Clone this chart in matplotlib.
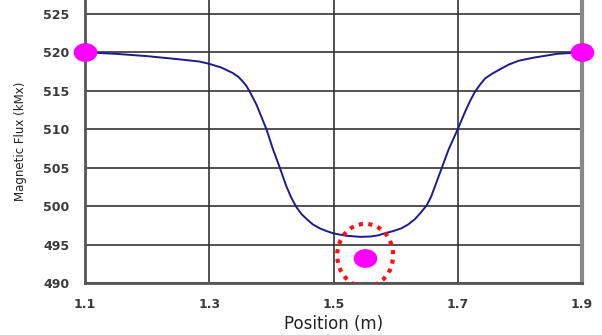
import matplotlib.pyplot as plt
import numpy as np
from matplotlib.path import Path
from matplotlib.patches import Ellipse

plt.rcParams['font.family'] = ['DejaVu Sans']

# flux profile along the position
position = [1.100, 1.150, 1.200, 1.250, 1.284, 1.300, 1.320, 1.338, 1.347, 1.354,
            1.360, 1.365, 1.376, 1.392, 1.403, 1.414, 1.424, 1.432, 1.440, 1.448,
            1.457, 1.467, 1.478, 1.489, 1.500, 1.520, 1.543, 1.560, 1.572, 1.582,
            1.596, 1.609, 1.620, 1.631, 1.641, 1.650, 1.657, 1.663, 1.674, 1.685,
            1.700, 1.712, 1.720, 1.728, 1.736, 1.744, 1.755, 1.766, 1.782, 1.798,
            1.822, 1.860, 1.900, 1.915]
flux = [520.0, 519.8, 519.5, 519.1, 518.8, 518.5, 518.0, 517.3, 516.8, 516.2,
        515.6, 514.9, 513.2, 510.0, 507.3, 504.9, 502.6, 501.1, 499.9, 499.0,
        498.3, 497.6, 497.1, 496.75, 496.45, 496.15, 496.0, 496.05, 496.2, 496.45,
        496.75, 497.1, 497.6, 498.3, 499.2, 500.1, 501.2, 502.5, 504.9, 507.3,
        510.0, 512.3, 513.7, 514.9, 515.8, 516.6, 517.2, 517.7, 518.4, 518.9,
        519.3, 519.8, 520.0, 520.1]

# measured points
pt_x = [1.10, 1.90, 1.55]
pt_y = [520.1, 520.1, 493.2]

xticks = [1.1, 1.3, 1.5, 1.7, 1.9]
yticks = [490, 495, 500, 505, 510, 515, 520, 525]

# elliptical marker (wider than tall)
t = np.linspace(0, 2 * np.pi, 60)
oval = Path(np.column_stack([np.cos(t), 0.78 * np.sin(t)]))

fig = plt.figure(figsize=(6.02, 3.35), dpi=100)
ax = fig.add_axes([85 / 602, 1 - 283 / 335, (582 - 85) / 602, 283 / 335])

ax.plot(position, flux, color='#1c1c8a', lw=1.4, zorder=3, clip_on=False,
        solid_joinstyle='round')
ax.plot(pt_x, pt_y, ls='none', marker=oval, ms=16, color='#ff00ff',
        zorder=4, clip_on=False)

ring = Ellipse((1.551, 493.6), 0.09, 8.2, fill=False, edgecolor='#ff1010',
               lw=3, ls=(0, (1, 1.3)), zorder=5)
ax.add_patch(ring)

ax.set_xlim(1.1, 1.9)
ax.set_ylim(490, 526.8)
ax.set_xticks(xticks)
ax.set_xticklabels([str(v) for v in xticks])
ax.set_yticks(yticks)
ax.tick_params(length=0, labelsize=9, pad=11)
for lab in ax.get_xticklabels() + ax.get_yticklabels():
    lab.set_fontweight('bold')
    lab.set_color('#3a3a3a')

ax.grid(True, color='#333333', lw=1.2)
ax.set_axisbelow(True)

ax.spines['top'].set_visible(False)
ax.spines['left'].set_color('#555555')
ax.spines['left'].set_linewidth(2)
ax.spines['bottom'].set_color('#555555')
ax.spines['bottom'].set_linewidth(2)
ax.spines['right'].set_color('#888888')
ax.spines['right'].set_linewidth(3)

ax.set_xlabel('Position (m)', fontsize=12, labelpad=3, color='#222222')
ax.set_ylabel('Magnetic Flux (kMx)', fontsize=8.5, labelpad=12, color='#222222')

fig.savefig('out.png', dpi=100)
